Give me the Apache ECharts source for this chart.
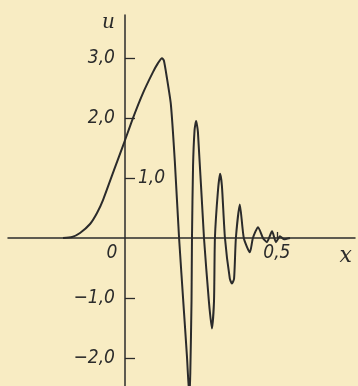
<!DOCTYPE html>
<html>
<head>
<meta charset="utf-8">
<script src="https://cdn.jsdelivr.net/npm/echarts@6/dist/echarts.min.js"></script>
<style>
  html, body { margin: 0; padding: 0; background: #f8ecc3; }
  #chart { width: 358px; height: 386px; }
</style>
</head>
<body>
<div id="chart"></div>
<script>
// curve u(x)
const xs = [-0.204, -0.174, -0.148, -0.115, -0.0921, -0.0724, -0.0362, -0.0033, 0.0263, 0.0592, 0.0921, 0.1086, 0.1217,
  0.128, 0.138, 0.151, 0.164, 0.178, 0.194, 0.204, 0.212,
  0.215, 0.219, 0.2205, 0.224, 0.229, 0.234, 0.240, 0.260,
  0.276, 0.286, 0.293, 0.296, 0.306, 0.313, 0.319, 0.329,
  0.345, 0.352, 0.359, 0.365, 0.378, 0.391, 0.411, 0.421, 0.438, 0.454,
  0.467, 0.484, 0.497, 0.510, 0.523, 0.543];
const us = [0, 0.017, 0.083, 0.233, 0.417, 0.633, 1.133, 1.583, 2.0, 2.417, 2.767, 2.917, 3.0,
  2.96, 2.67, 2.23, 1.28, 0, -1.22, -1.98, -2.66,
  -2.24, -1.05, 0, 1.2, 1.8, 1.95, 1.77, 0,
  -1.05, -1.51, -1.05, 0, 0.79, 1.07, 0.87, 0,
  -0.68, -0.76, -0.68, 0, 0.56, 0, -0.24, 0, 0.18, 0,
  -0.07, 0.11, -0.07, 0.03, -0.02, 0];

const yTicks = [-2, -1, 1, 2, 3];
const yLabelsLeft = [-2, -1, 2, 3];
const yLabelsRight = [1];
const xTicks = [0.5];
const xLabels = [0, 0.5];

const xMin = -0.385, xMax = 0.757;
const yMin = -2.47, yMax = 3.72;
const W = 358, H = 386;
const grid = { left: 8, right: 3, top: 15, bottom: 0 };

// axes cross at the origin: shift each axis from the grid edge to the zero of the other
const yOff = -(0 - xMin) / (xMax - xMin) * (W - grid.left - grid.right);
const xOff = -(0 - yMin) / (yMax - yMin) * (H - grid.top - grid.bottom);

const ink = '#2b2b2b';
const numFont = "'Liberation Sans Narrow', 'DejaVu Sans Condensed', sans-serif";
const fmt = v => (v < 0 ? '\u2212' : '') + Math.abs(v).toFixed(1).replace('.', ',');

const chart = echarts.init(document.getElementById('chart'));
chart.setOption({
  backgroundColor: '#f8ecc3',
  animation: false,
  grid: Object.assign({ outerBoundsMode: 'none' }, grid),
  xAxis: {
    type: 'value',
    min: xMin,
    max: xMax,
    position: 'bottom',
    offset: xOff,
    name: 'x',
    nameLocation: 'end',
    nameGap: -3,
    nameTextStyle: {
      fontFamily: "'DejaVu Serif', serif", fontStyle: 'italic', fontSize: 22,
      color: ink, align: 'right', verticalAlign: 'top', padding: [7, 0, 0, 0]
    },
    axisLine: { onZero: false, lineStyle: { color: ink, width: 1.5 } },
    axisTick: { show: true, inside: true, length: 6, customValues: xTicks, lineStyle: { color: ink, width: 1.3 } },
    axisLabel: {
      customValues: xLabels,
      margin: 6,
      fontFamily: numFont, fontStyle: 'italic', fontSize: 19, color: ink,
      formatter: v => v === 0 ? '0{g|}' : fmt(v),
      rich: { g: { width: 26 } }
    },
    splitLine: { show: false }
  },
  yAxis: [{
    type: 'value',
    min: yMin,
    max: yMax,
    position: 'left',
    offset: yOff,
    name: 'u',
    nameLocation: 'end',
    nameGap: 2,
    nameTextStyle: {
      fontFamily: "'DejaVu Serif', serif", fontStyle: 'italic', fontSize: 20,
      color: ink, align: 'right', verticalAlign: 'top', padding: [0, 10, 0, 0]
    },
    axisLine: { onZero: false, lineStyle: { color: ink, width: 1.5 } },
    axisTick: { show: true, inside: true, length: 10, customValues: yTicks, lineStyle: { color: ink, width: 1.3 } },
    axisLabel: {
      customValues: yLabelsLeft,
      margin: 10,
      fontFamily: numFont, fontStyle: 'italic', fontSize: 19, color: ink,
      formatter: fmt
    },
    splitLine: { show: false }
  }, {
    type: 'value',
    min: yMin,
    max: yMax,
    position: 'left',
    offset: yOff,
    axisLine: { show: false, onZero: false },
    axisTick: { show: false },
    axisLabel: {
      inside: true,
      customValues: yLabelsRight,
      margin: 13,
      fontFamily: numFont, fontStyle: 'italic', fontSize: 19, color: ink,
      formatter: fmt
    },
    splitLine: { show: false }
  }],
  series: [{
    type: 'line',
    data: xs.map((x, i) => [x, us[i]]),
    showSymbol: false,
    smooth: 0.2,
    clip: true,
    lineStyle: { color: ink, width: 2 }
  }]
});
</script>
</body>
</html>
